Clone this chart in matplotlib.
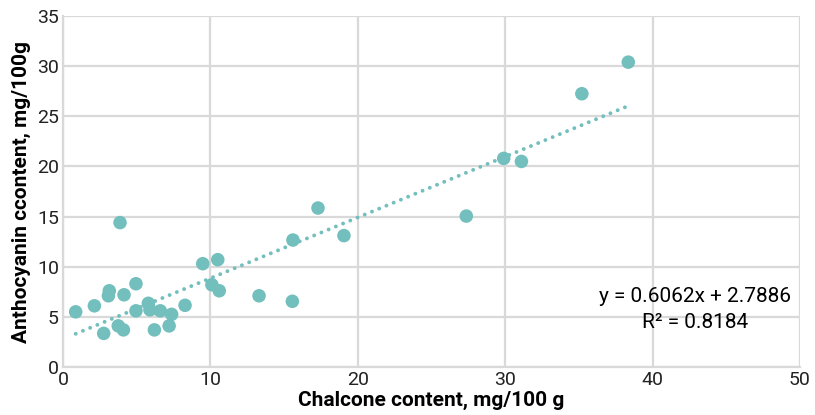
import numpy as np
import matplotlib.pyplot as plt

plt.rcParams['font.family'] = ['Roboto', 'DejaVu Sans']

# Data
chalcone = [0.86, 2.13, 2.76, 3.14, 3.08, 3.75, 4.1, 4.14, 3.87, 4.95, 4.95,
            5.79, 5.9, 6.6, 6.2, 7.37, 7.2, 8.28, 9.48, 10.5, 10.1, 10.6,
            13.3, 15.56, 15.6, 17.3, 19.06, 27.36, 29.9, 31.1, 35.2, 38.35]
anthocyanin = [5.5, 6.1, 3.35, 7.6, 7.1, 4.1, 3.7, 7.2, 14.4, 8.3, 5.6,
               6.35, 5.7, 5.6, 3.7, 5.25, 4.1, 6.15, 10.3, 10.7, 8.2, 7.6,
               7.1, 6.55, 12.66, 15.85, 13.1, 15.05, 20.8, 20.5, 27.25, 30.4]
slope, intercept, r2 = 0.6062, 2.7886, 0.8184

teal = '#72bfbd'

fig = plt.figure(figsize=(8.15, 4.15), dpi=100)
ax = fig.add_axes([0.0773, 0.1157, 0.9043, 0.8457])

ax.scatter(chalcone, anthocyanin, s=95, color=teal, edgecolors='none', zorder=3)

# dotted linear trendline
xs = np.linspace(min(chalcone), max(chalcone), 100)
ax.plot(xs, slope * xs + intercept, color=teal, linestyle=(0, (0.01, 2.0)),
        linewidth=2.8, dash_capstyle='round', zorder=2)

ax.set_xlim(0, 50)
ax.set_ylim(0, 35)
ax.set_xticks(range(0, 51, 10))
ax.set_yticks(range(0, 36, 5))
ax.grid(True, color='#d9d9d9', linewidth=1.6)
ax.set_axisbelow(True)
for side in ['top', 'right']:
    ax.spines[side].set_visible(False)
for side in ['left', 'bottom']:
    ax.spines[side].set_color('#d9d9d9')
    ax.spines[side].set_linewidth(1.6)
ax.tick_params(length=0, labelsize=14, colors='#222222', pad=3)

ax.set_xlabel('Chalcone content, mg/100 g', fontsize=15, fontweight='bold', labelpad=1)
ax.set_ylabel('Anthocyanin ccontent, mg/100g', fontsize=15, fontweight='bold', labelpad=4)

ax.text(42.9, 6.98, f'y = {slope}x + {intercept}', fontsize=15, ha='center', va='center')
ax.text(42.9, 4.39, f'R² = {r2}', fontsize=15, ha='center', va='center')

plt.savefig('out.png', dpi=100)
